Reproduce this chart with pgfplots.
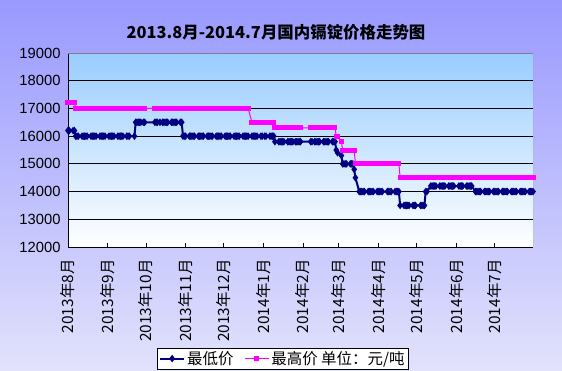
\documentclass[border=0pt]{standalone}
\usepackage{fontspec}
\setmainfont{Noto Sans CJK SC}
\newfontfamily\arial{Liberation Sans}
\usepackage{pgfplots}
\pgfplotsset{compat=1.18}
\usepackage{pgfplotstable}
\definecolor{navyb}{RGB}{0,0,128}
\definecolor{pinkm}{RGB}{255,0,255}
\definecolor{bgtop}{RGB}{153,153,255}
\definecolor{bgbot}{RGB}{226,226,252}
\definecolor{pltop}{RGB}{153,204,255}

% d = days since 2013-08-01, lo = lowest price, hi = highest price (yuan/ton)
\pgfplotstableread[row sep=\\]{
d lo hi\\
0 16200 17200\\ 1 16200 17200\\ 4 16200 17200\\ 5 16200 17200\\
6 16000 17000\\ 7 16000 17000\\ 8 16000 17000\\ 11 16000 17000\\ 12 16000 17000\\ 13 16000 17000\\ 14 16000 17000\\ 15 16000 17000\\
18 16000 17000\\ 19 16000 17000\\ 20 16000 17000\\ 21 16000 17000\\ 22 16000 17000\\ 25 16000 17000\\ 26 16000 17000\\ 27 16000 17000\\ 28 16000 17000\\ 29 16000 17000\\
32 16000 17000\\ 33 16000 17000\\ 34 16000 17000\\ 35 16000 17000\\ 36 16000 17000\\ 39 16000 17000\\ 40 16000 17000\\ 41 16000 17000\\ 42 16000 17000\\ 43 16000 17000\\
46 16000 17000\\ 47 16000 17000\\ 48 16000 17000\\ 52 16000 17000\\
53 16500 17000\\ 54 16500 17000\\ 55 16500 17000\\ 56 16500 17000\\ 57 16500 17000\\ 59 16500 17000\\ 60 16500 17000\\
68 16500 17000\\ 69 16500 17000\\ 70 16500 17000\\ 72 16500 17000\\ 74 16500 17000\\ 75 16500 17000\\ 76 16500 17000\\ 77 16500 17000\\ 78 16500 17000\\
81 16500 17000\\ 82 16500 17000\\ 83 16500 17000\\ 84 16500 17000\\ 85 16500 17000\\ 88 16500 17000\\ 89 16500 17000\\
90 16000 17000\\ 91 16000 17000\\ 92 16000 17000\\ 95 16000 17000\\ 96 16000 17000\\ 97 16000 17000\\ 98 16000 17000\\ 99 16000 17000\\
102 16000 17000\\ 103 16000 17000\\ 104 16000 17000\\ 105 16000 17000\\ 106 16000 17000\\ 109 16000 17000\\ 110 16000 17000\\ 111 16000 17000\\ 112 16000 17000\\ 113 16000 17000\\
116 16000 17000\\ 117 16000 17000\\ 118 16000 17000\\ 119 16000 17000\\ 120 16000 17000\\
123 16000 17000\\ 124 16000 17000\\ 125 16000 17000\\ 126 16000 17000\\ 127 16000 17000\\ 130 16000 17000\\ 131 16000 17000\\ 132 16000 17000\\ 133 16000 17000\\ 134 16000 17000\\
137 16000 17000\\ 138 16000 17000\\ 139 16000 17000\\ 140 16000 17000\\ 141 16000 17000\\
144 16000 16500\\ 145 16000 16500\\ 146 16000 16500\\ 147 16000 16500\\ 148 16000 16500\\ 151 16000 16500\\ 152 16000 16500\\
154 16000 16500\\ 155 16000 16500\\ 158 16000 16500\\ 159 16000 16500\\ 160 16000 16500\\ 161 16000 16500\\
162 15800 16300\\ 165 15800 16300\\ 166 15800 16300\\ 167 15800 16300\\ 168 15800 16300\\ 169 15800 16300\\
172 15800 16300\\ 173 15800 16300\\ 174 15800 16300\\ 175 15800 16300\\ 176 15800 16300\\ 178 15800 16300\\ 179 15800 16300\\ 180 15800 16300\\ 181 15800 16300\\ 182 15800 16300\\
190 15800 16300\\ 191 15800 16300\\ 193 15800 16300\\ 194 15800 16300\\ 195 15800 16300\\ 196 15800 16300\\ 197 15800 16300\\
200 15800 16300\\ 201 15800 16300\\ 202 15800 16300\\ 203 15800 16300\\ 204 15800 16300\\ 207 15800 16300\\ 208 15800 16300\\ 209 15800 16300\\
210 15500 16000\\ 211 15400 16000\\ 214 15300 15800\\
215 15000 15500\\ 216 15000 15500\\ 217 15000 15500\\ 218 15000 15500\\ 221 15000 15500\\ 222 15000 15500\\ 223 15000 15500\\
224 14800 15500\\ 225 14500 15000\\
228 14000 15000\\ 229 14000 15000\\ 230 14000 15000\\ 231 14000 15000\\ 232 14000 15000\\ 235 14000 15000\\ 236 14000 15000\\ 237 14000 15000\\ 238 14000 15000\\ 239 14000 15000\\ 242 14000 15000\\
243 14000 15000\\ 244 14000 15000\\ 245 14000 15000\\ 246 14000 15000\\ 250 14000 15000\\ 251 14000 15000\\ 252 14000 15000\\ 253 14000 15000\\
256 14000 15000\\ 257 14000 15000\\ 258 14000 15000\\ 259 14000 15000\\
260 13500 14500\\ 263 13500 14500\\ 264 13500 14500\\ 265 13500 14500\\ 266 13500 14500\\ 267 13500 14500\\ 270 13500 14500\\ 271 13500 14500\\ 272 13500 14500\\
276 13500 14500\\ 277 13500 14500\\ 278 13500 14500\\ 279 13500 14500\\
280 14000 14500\\ 281 14000 14500\\
284 14200 14500\\ 285 14200 14500\\ 286 14200 14500\\ 287 14200 14500\\ 288 14200 14500\\ 291 14200 14500\\ 292 14200 14500\\ 293 14200 14500\\ 294 14200 14500\\ 295 14200 14500\\
298 14200 14500\\ 299 14200 14500\\ 300 14200 14500\\ 301 14200 14500\\ 302 14200 14500\\
306 14200 14500\\ 307 14200 14500\\ 308 14200 14500\\ 309 14200 14500\\ 312 14200 14500\\ 313 14200 14500\\ 314 14200 14500\\ 315 14200 14500\\ 316 14200 14500\\
319 14000 14500\\ 320 14000 14500\\ 321 14000 14500\\ 322 14000 14500\\ 323 14000 14500\\ 326 14000 14500\\ 327 14000 14500\\ 328 14000 14500\\ 329 14000 14500\\ 330 14000 14500\\ 333 14000 14500\\
334 14000 14500\\ 335 14000 14500\\ 336 14000 14500\\ 337 14000 14500\\ 340 14000 14500\\ 341 14000 14500\\ 342 14000 14500\\ 343 14000 14500\\ 344 14000 14500\\
347 14000 14500\\ 348 14000 14500\\ 349 14000 14500\\ 350 14000 14500\\ 351 14000 14500\\ 354 14000 14500\\ 355 14000 14500\\ 356 14000 14500\\ 357 14000 14500\\ 358 14000 14500\\
361 14000 14500\\ 362 14000 14500\\ 363 14000 14500\\ 364 14000 14500\\
}\data

\begin{document}
\begin{tikzpicture}
\shade[top color=bgtop, bottom color=bgbot] (0,0) rectangle (562bp,371bp);
\useasboundingbox (0,0) rectangle (562bp,371bp);
\node[font=\fontsize{16.5}{18}\selectfont\bfseries] at (276bp,339bp) {2013.8月-2014.7月国内镉锭价格走势图};
\begin{axis}[
  at={(68bp,124bp)}, anchor=south west,
  scale only axis, width=465bp, height=194bp,
  xmin=0, xmax=364, ymin=12000, ymax=19000,
  axis x line*=bottom, axis y line*=left,
  axis line style={-, black, line width=0.8bp},
  tick align=inside,
  major tick length=4bp,
  tick style={black, line width=0.8bp},
  xtick={0,31,61,92,122,153,184,212,243,273,304,334},
  xticklabels={2013年8月,2013年9月,2013年10月,2013年11月,2013年12月,2014年1月,2014年2月,2014年3月,2014年4月,2014年5月,2014年6月,2014年7月},
  xticklabel style={rotate=90, anchor=east, font=\fontsize{15.5}{15.5}\selectfont},
  xticklabel shift=9bp,
  ytick={12000,13000,...,19000},
  scaled y ticks=false,
  /pgf/number format/.cd, 1000 sep={}, assume math mode=true, /pgfplots/.cd,
  yticklabel style={font=\fontsize{14.8}{15}\selectfont\arial},
  yticklabel shift=4bp,
  ymajorgrids, grid style={black, line width=0.8bp},
  axis background/.style={top color=pltop, bottom color=white},
  legend columns=2,
  legend style={at={(0.462,-0.575)}, anchor=center, draw=black, fill=white,
    font=\fontsize{15.5}{16}\selectfont, inner sep=1.5bp,
    /tikz/every even column/.append style={column sep=9bp}},
  legend image code/.code={\draw[mark repeat=2,mark phase=2,#1] plot coordinates {(0bp,0bp) (12bp,0bp) (24bp,0bp)};},
]
\addplot[navyb, line width=2bp, mark=diamond*, mark size=2.2bp, mark options={solid}] table[x=d,y=lo]{\data};
\addlegendentry{最低价}
\addplot[pinkm, line width=1bp, mark=square*, mark size=2bp, mark options={solid}] table[x=d,y=hi]{\data};
\addlegendentry{最高价 单位：元/吨}
\draw[gray, line width=0.8bp] (rel axis cs:0,1) -- (rel axis cs:1,1) -- (rel axis cs:1,0);
\end{axis}
\end{tikzpicture}
\end{document}
